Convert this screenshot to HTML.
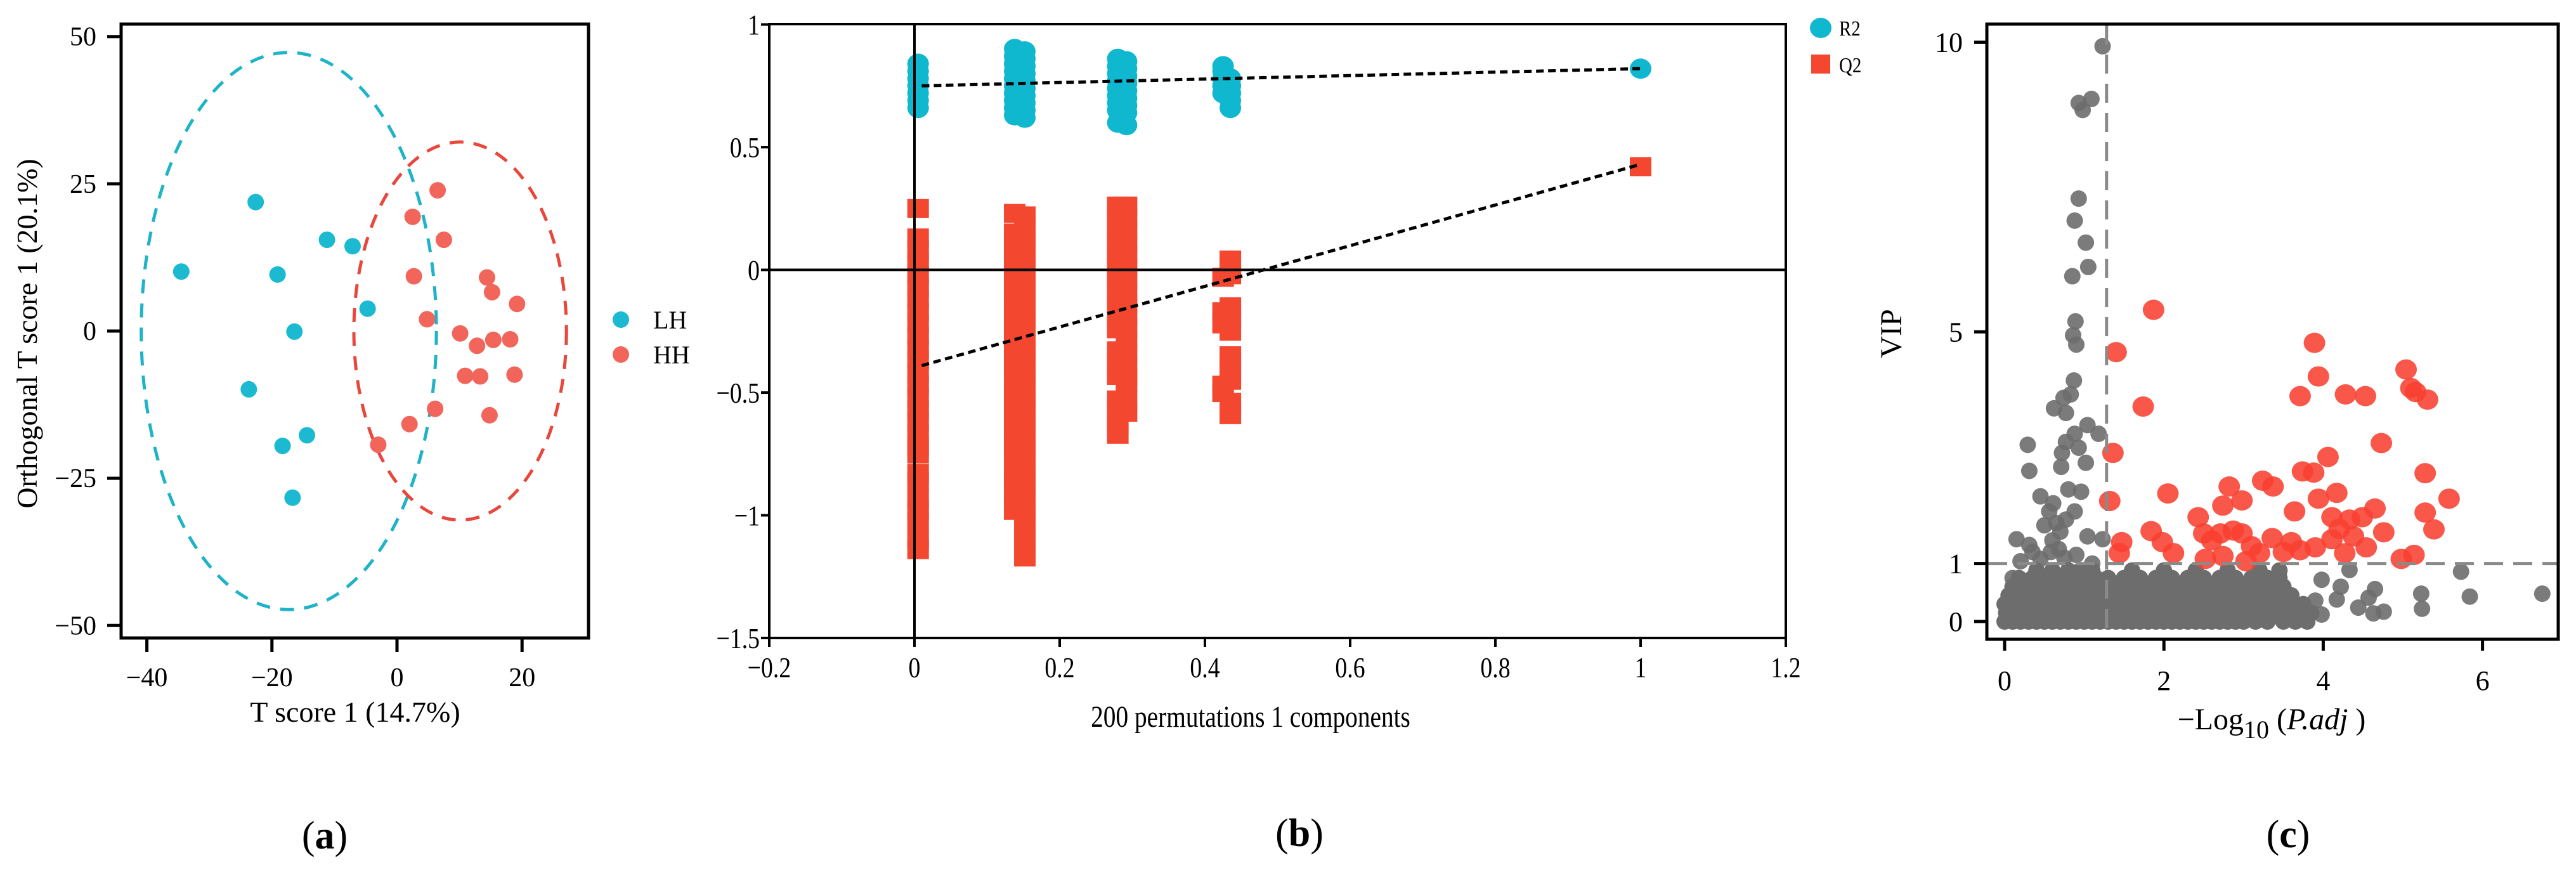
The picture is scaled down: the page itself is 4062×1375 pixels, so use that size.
<!DOCTYPE html>
<html><head><meta charset="utf-8"><style>
html,body{margin:0;padding:0;background:#fff;}
svg{display:block;font-family:"Liberation Serif",serif;}
</style></head><body>
<svg id="fig" width="4062" height="1375" viewBox="0 0 4062 1375" xmlns="http://www.w3.org/2000/svg">
<rect width="4062" height="1375" fill="#fff"/>
<g id="pa"></g>
<g id="pb"></g>
<g id="pc"></g>
</svg>
<script>
// ---------- Panel A data ----------
const aXTicks = [-40, -20, 0, 20];
const aYTicks = [50, 25, 0, -25, -50];
const lhX = [-22.6, -34.5, -11.2, -7.1, -19.1, -4.7, -16.4, -23.7, -14.4, -18.3, -16.7];
const lhY = [21.9, 10.1, 15.5, 14.4, 9.6, 3.8, -0.1, -9.9, -17.7, -19.5, -28.3];
const hhX = [6.5, 2.5, 7.5, 2.7, 14.4, 15.2, 19.2, 4.8, 10.1, 12.8, 15.4, 18.1, 10.9, 13.3, 18.8, 6.1, 14.8, 2.0, -3.0];
const hhY = [23.9, 19.4, 15.5, 9.3, 9.1, 6.6, 4.6, 2.0, -0.4, -2.5, -1.5, -1.4, -7.6, -7.7, -7.4, -13.2, -14.3, -15.8, -19.3];
const lhEllipse = [-17.3, 0, 23.6, 47.3];
const hhEllipse = [10.1, 0, 17.0, 32.1];

// ---------- Panel B data ----------
const bXTicks = [-0.2, 0, 0.2, 0.4, 0.6, 0.8, 1, 1.2];
const bXTickLabels = ["\u22120.2", "0", "0.2", "0.4", "0.6", "0.8", "1", "1.2"];
const bYTicks = [1, 0.5, 0, -0.5, -1, -1.5];
const bYTickLabels = ["1", "0.5", "0", "\u22120.5", "\u22121", "\u22121.5"];
const r2ColX = [0.005, 0.138, 0.152, 0.28, 0.292, 0.425, 0.435, 1.0];
const r2ColVals = [
  [0.66, 0.69, 0.72, 0.75, 0.78, 0.81, 0.84],
  [0.63, 0.66, 0.69, 0.72, 0.75, 0.78, 0.81, 0.84, 0.87, 0.9],
  [0.62, 0.65, 0.68, 0.71, 0.74, 0.77, 0.8, 0.83, 0.86, 0.89],
  [0.6, 0.65, 0.68, 0.71, 0.74, 0.77, 0.8, 0.83, 0.86],
  [0.59, 0.64, 0.67, 0.7, 0.73, 0.76, 0.79, 0.82, 0.85],
  [0.72, 0.75, 0.78, 0.81, 0.83],
  [0.66, 0.69, 0.72, 0.75, 0.78],
  [0.82]
];
const q2ColX = [0.005, 0.138, 0.152, 0.28, 0.292, 0.425, 0.435, 1.0];
const q2ColVals = [
  [0.25, 0.13, 0.08, 0.03, -0.02, -0.07, -0.12, -0.17, -0.22, -0.27, -0.32, -0.37, -0.42, -0.47, -0.52, -0.57, -0.62, -0.67, -0.72, -0.75, -0.83, -0.86, -0.93, -0.98, -1.03, -1.1, -1.14],
  [0.23, 0.15, 0.1, 0.05, 0, -0.05, -0.1, -0.15, -0.2, -0.25, -0.3, -0.35, -0.4, -0.45, -0.5, -0.55, -0.6, -0.65, -0.7, -0.75, -0.82, -0.86, -0.92, -0.98],
  [0.22, 0.17, 0.12, 0.07, 0.02, -0.03, -0.08, -0.13, -0.18, -0.23, -0.28, -0.33, -0.38, -0.43, -0.48, -0.53, -0.58, -0.63, -0.68, -0.73, -0.78, -0.83, -0.88, -0.93, -0.98, -1.03, -1.08, -1.13, -1.17],
  [0.26, 0.21, 0.16, 0.11, 0.06, 0.01, -0.04, -0.09, -0.14, -0.19, -0.24, -0.33, -0.38, -0.43, -0.53, -0.58, -0.63, -0.67],
  [0.26, 0.21, 0.16, 0.11, 0.06, 0.01, -0.04, -0.09, -0.14, -0.19, -0.24, -0.29, -0.34, -0.39, -0.44, -0.46, -0.53, -0.58],
  [-0.03, -0.17, -0.22, -0.47, -0.5],
  [0.04, -0.02, -0.15, -0.2, -0.25, -0.35, -0.4, -0.45, -0.54, -0.59],
  [0.42]
];
const r2LineX = [0.01, 1.0];
const r2LineY = [0.75, 0.82];
const q2LineX = [0.01, 1.0];
const q2LineY = [-0.39, 0.43];

// ---------- Panel C data ----------
const cXTicks = [0, 2, 4, 6];
const cYTicks = [10, 5, 1, 0];
const pThreshold = 1.28;
const vipThreshold = 1;
const blobRowY = [0.0, 0.15, 0.3, 0.45, 0.6, 0.75, 0.88];
const blobRowX = [
  [0.0, 0.1, 0.2, 0.3, 0.4, 0.5, 0.6, 0.7, 0.8, 0.9, 1.0, 1.1, 1.2, 1.3, 1.4, 1.5, 1.6, 1.7, 1.8, 1.9, 2.0, 2.1, 2.2, 2.3, 2.4, 2.5, 2.6, 2.7, 2.8, 2.9, 3.0, 3.15, 3.3, 3.5, 3.65, 3.8],
  [0.02, 0.12, 0.22, 0.32, 0.42, 0.52, 0.62, 0.72, 0.82, 0.92, 1.02, 1.12, 1.22, 1.32, 1.42, 1.52, 1.62, 1.72, 1.82, 1.92, 2.02, 2.12, 2.22, 2.32, 2.42, 2.52, 2.62, 2.72, 2.82, 2.92, 3.02, 3.12, 3.25, 3.4, 3.55, 3.7, 3.85],
  [0.0, 0.1, 0.2, 0.3, 0.4, 0.5, 0.6, 0.7, 0.8, 0.9, 1.0, 1.1, 1.2, 1.3, 1.4, 1.5, 1.6, 1.7, 1.8, 1.9, 2.0, 2.1, 2.2, 2.3, 2.4, 2.5, 2.6, 2.7, 2.8, 2.9, 3.0, 3.1, 3.25, 3.4, 3.55, 3.75],
  [0.05, 0.15, 0.27, 0.38, 0.48, 0.6, 0.7, 0.82, 0.92, 1.03, 1.15, 1.26, 1.38, 1.5, 1.6, 1.72, 1.83, 1.95, 2.05, 2.17, 2.3, 2.4, 2.52, 2.64, 2.76, 2.88, 3.0, 3.15, 3.3, 3.45, 3.6],
  [0.1, 0.22, 0.35, 0.5, 0.62, 0.75, 0.88, 1.0, 1.12, 1.25, 1.4, 1.55, 1.7, 1.85, 2.0, 2.15, 2.3, 2.45, 2.6, 2.75, 2.9, 3.05, 3.2, 3.35, 3.5],
  [0.18, 0.35, 0.55, 0.7, 0.85, 1.0, 1.15, 1.3, 1.5, 1.7, 1.9, 2.1, 2.3, 2.5, 2.7, 2.9, 3.1, 3.3, 3.45],
  [0.4, 0.6, 0.8, 0.95, 1.1, 1.6, 2.0, 2.4, 2.8, 3.2, 3.45]
];
const grayX = [1.23, 0.93, 0.98, 1.09, 0.93, 0.88, 1.02, 1.05, 0.85, 0.89, 0.86, 0.9, 0.87, 0.83, 0.74, 0.62, 0.77, 0.88, 1.04, 1.18, 0.29, 0.31, 0.72, 0.77, 0.93, 1.02, 0.71, 0.45, 0.8, 0.96, 0.61, 0.56, 0.5, 0.77, 0.88, 1.04, 0.15, 0.31, 0.2, 0.45, 1.23, 0.1, 0.65, 0.7, 0.6, 0.68, 0.75, 0.58, 0.9, 1.1, 0.35, 5.73, 5.84, 6.75, 5.23, 5.24, 4.44, 4.65, 4.57, 4.76, 4.63, 4.33, 4.17, 4.22, 3.98, 3.98, 3.65, 3.9];
const grayY = [9.93, 8.95, 8.83, 9.02, 7.3, 6.92, 6.54, 6.12, 5.96, 5.18, 4.94, 4.78, 4.16, 3.92, 3.86, 3.68, 3.6, 3.24, 3.39, 3.24, 3.05, 2.6, 2.91, 3.1, 3.0, 2.74, 2.67, 2.16, 2.28, 2.24, 2.04, 1.9, 1.66, 1.76, 1.9, 1.47, 1.42, 1.32, 1.04, 1.08, 1.42, 0.75, 1.7, 1.55, 1.4, 1.25, 1.1, 1.2, 1.15, 1.0, 1.2, 0.86, 0.43, 0.48, 0.48, 0.22, 0.24, 0.56, 0.41, 0.17, 0.14, 0.89, 0.38, 0.6, 0.72, 0.12, 0.1, 0.36];
const redX = [1.4, 1.87, 1.74, 1.36, 1.32, 1.47, 1.44, 2.05, 1.84, 1.98, 2.12, 2.43, 2.5, 2.71, 2.82, 2.74, 2.87, 2.98, 2.98, 2.52, 2.74, 3.24, 3.37, 3.36, 3.2, 3.03, 3.64, 3.6, 3.71, 3.71, 3.89, 3.94, 3.74, 3.88, 4.06, 3.94, 4.17, 4.11, 3.9, 4.11, 4.28, 4.53, 4.33, 4.49, 4.65, 4.73, 4.38, 4.54, 4.76, 4.27, 5.04, 5.1, 5.16, 5.31, 5.28, 5.58, 5.28, 5.39, 4.98, 5.14, 2.6, 3.1, 3.5, 4.2];
const redY = [4.65, 5.38, 3.71, 2.91, 2.08, 1.37, 1.18, 2.21, 1.56, 1.37, 1.18, 1.8, 1.52, 1.52, 2.33, 2.0, 1.57, 2.09, 1.52, 1.08, 1.13, 2.43, 2.33, 1.44, 1.18, 1.04, 1.9, 1.37, 1.23, 3.89, 4.81, 4.23, 2.59, 2.57, 2.84, 2.12, 2.22, 1.8, 1.28, 1.42, 3.92, 3.89, 1.76, 1.8, 1.95, 3.08, 1.47, 1.28, 1.54, 1.18, 4.35, 4.03, 3.96, 3.83, 2.56, 2.12, 1.88, 1.59, 1.08, 1.15, 1.4, 1.3, 1.2, 1.6];

// ---------- helpers ----------
const NS = "http://www.w3.org/2000/svg";
function mk(parent, tag, attrs, text) {
  const e = document.createElementNS(NS, tag);
  for (const k in attrs) e.setAttribute(k, attrs[k]);
  if (text !== undefined) e.textContent = text;
  parent.appendChild(e);
  return e;
}
const pa = document.getElementById('pa');
const pb = document.getElementById('pb');
const pc = document.getElementById('pc');

// ---------- Panel A ----------
const xa = v => 626 + v * 9.86;
const ya = v => 522 - v * 9.286;
let e;
e = mk(pa, 'ellipse', {cx: xa(lhEllipse[0]), cy: ya(lhEllipse[1]), rx: lhEllipse[2] * 9.86, ry: lhEllipse[3] * 9.286, fill: 'none', stroke: '#1fb3c8', 'stroke-width': 5, 'stroke-dasharray': '22 16'});


e = mk(pa, 'ellipse', {cx: xa(hhEllipse[0]), cy: ya(hhEllipse[1]), rx: hhEllipse[2] * 9.86, ry: hhEllipse[3] * 9.286, fill: 'none', stroke: '#e8473c', 'stroke-width': 5, 'stroke-dasharray': '22 16'});


for (let i = 0; i < lhX.length; i++) {
  e = mk(pa, 'ellipse', {cx: xa(lhX[i]), cy: ya(lhY[i]), rx: 13, ry: 13, fill: '#1cbad0'});
  
  
}
for (let i = 0; i < hhX.length; i++) {
  e = mk(pa, 'ellipse', {cx: xa(hhX[i]), cy: ya(hhY[i]), rx: 13, ry: 13, fill: '#f2655a'});
  
  
}
e = mk(pa, 'rect', {x: 191, y: 38, width: 737, height: 968, fill: 'none', stroke: '#000', 'stroke-width': 5});


for (const t of aXTicks) {
  mk(pa, 'line', {x1: xa(t), x2: xa(t), y1: 1006, y2: 1028, stroke: '#000', 'stroke-width': 5});
  e = mk(pa, 'text', {x: xa(t), y: 1082, 'font-size': 42, 'text-anchor': 'middle'}, t < 0 ? '\u2212' + (-t) : String(t));
  
  
}
for (const t of aYTicks) {
  mk(pa, 'line', {x1: 169, x2: 191, y1: ya(t), y2: ya(t), stroke: '#000', 'stroke-width': 5});
  e = mk(pa, 'text', {x: 152, y: ya(t) + 14, 'font-size': 42, 'text-anchor': 'end'}, t < 0 ? '\u2212' + (-t) : String(t));
  
  
}
e = mk(pa, 'text', {x: 560, y: 1138, 'font-size': 46, 'text-anchor': 'middle'}, 'T score 1 (14.7%)');


e = mk(pa, 'text', {x: 0, y: 0, 'font-size': 46, 'text-anchor': 'middle', transform: 'translate(58,526) rotate(-90)'}, 'Orthogonal T score 1 (20.1%)');


e = mk(pa, 'circle', {cx: 979, cy: 504, r: 13, fill: '#1cbad0'});


e = mk(pa, 'text', {x: 1030, y: 518, 'font-size': 40}, 'LH');


e = mk(pa, 'circle', {cx: 979, cy: 559, r: 13, fill: '#f2655a'});


e = mk(pa, 'text', {x: 1030, y: 573, 'font-size': 40}, 'HH');


e = mk(pa, 'text', {x: 512, y: 1338, 'font-size': 62, 'text-anchor': 'middle'}, '');
e.innerHTML = '(<tspan font-weight="bold">a</tspan>)';



// ---------- Panel B ----------
const xb = v => 1213 + (v + 0.2) / 1.4 * 1603;
const yb = v => 38.6 + (1 - v) / 2.5 * 967.4;
for (let c = 0; c < q2ColX.length; c++) {
  for (const v of q2ColVals[c]) {
    e = mk(pb, 'rect', {x: xb(q2ColX[c]) - 17, y: yb(v) - 15, width: 34, height: 30, fill: '#f4472f'});
    
    
  }
}
for (let c = 0; c < r2ColX.length; c++) {
  for (const v of r2ColVals[c]) {
    e = mk(pb, 'ellipse', {cx: xb(r2ColX[c]), cy: yb(v), rx: 17, ry: 16, fill: '#0fb7cf'});
    
    
  }
}
mk(pb, 'line', {x1: xb(0), x2: xb(0), y1: 38, y2: 1006, stroke: '#000', 'stroke-width': 4});
mk(pb, 'line', {x1: 1213, x2: 2816, y1: yb(0), y2: yb(0), stroke: '#000', 'stroke-width': 4});
e = mk(pb, 'line', {x1: xb(r2LineX[0]), y1: yb(r2LineY[0]), x2: xb(r2LineX[1]), y2: yb(r2LineY[1]), stroke: '#000', 'stroke-width': 5, 'stroke-dasharray': '12 7'});


e = mk(pb, 'line', {x1: xb(q2LineX[0]), y1: yb(q2LineY[0]), x2: xb(q2LineX[1]), y2: yb(q2LineY[1]), stroke: '#000', 'stroke-width': 5, 'stroke-dasharray': '12 7'});


e = mk(pb, 'rect', {x: 1213, y: 38, width: 1603, height: 968, fill: 'none', stroke: '#000', 'stroke-width': 4});


for (let i = 0; i < bXTicks.length; i++) {
  mk(pb, 'line', {x1: xb(bXTicks[i]), x2: xb(bXTicks[i]), y1: 1006, y2: 1020, stroke: '#000', 'stroke-width': 4});
  e = mk(pb, 'text', {x: xb(bXTicks[i]), y: 1068, 'font-size': 46, 'text-anchor': 'middle', transform: `translate(${xb(bXTicks[i])},0) scale(0.82,1) translate(${-xb(bXTicks[i])},0)`}, bXTickLabels[i]);
  
  
}
for (let i = 0; i < bYTicks.length; i++) {
  mk(pb, 'line', {x1: 1200, x2: 1213, y1: yb(bYTicks[i]), y2: yb(bYTicks[i]), stroke: '#000', 'stroke-width': 4});
  e = mk(pb, 'text', {x: 1198, y: yb(bYTicks[i]) + 16, 'font-size': 46, 'text-anchor': 'end', transform: `translate(1198,0) scale(0.82,1) translate(-1198,0)`}, bYTickLabels[i]);
  
  
}
e = mk(pb, 'text', {x: 1972, y: 1146, 'font-size': 48, 'text-anchor': 'middle', transform: 'translate(1972,0) scale(0.82,1) translate(-1972,0)'}, '200 permutations 1 components');


e = mk(pb, 'ellipse', {cx: 2871, cy: 44, rx: 17, ry: 16, fill: '#0fb7cf'});


e = mk(pb, 'text', {x: 2900, y: 56, 'font-size': 34, transform: 'translate(2900,0) scale(0.85,1) translate(-2900,0)'}, 'R2');


e = mk(pb, 'rect', {x: 2856, y: 86, width: 30, height: 30, fill: '#f4472f'});


e = mk(pb, 'text', {x: 2900, y: 114, 'font-size': 34, transform: 'translate(2900,0) scale(0.85,1) translate(-2900,0)'}, 'Q2');


e = mk(pb, 'text', {x: 2049, y: 1334, 'font-size': 62, 'text-anchor': 'middle'}, '');
e.innerHTML = '(<tspan font-weight="bold">b</tspan>)';



// ---------- Panel C ----------
const xc = v => 3161 + v * 125.6;
const yc = v => 980 - v * 91.35;
for (let r = 0; r < blobRowY.length; r++) {
  for (const x of blobRowX[r]) {
    e = mk(pc, 'circle', {cx: xc(x), cy: yc(blobRowY[r]), r: 13, fill: '#6d6d6d'});
    
    
  }
}
for (let i = 0; i < grayX.length; i++) {
  e = mk(pc, 'circle', {cx: xc(grayX[i]), cy: yc(grayY[i]), r: 13, fill: '#6d6d6d', 'fill-opacity': 0.9});
  
  
}
for (let i = 0; i < redX.length; i++) {
  e = mk(pc, 'ellipse', {cx: xc(redX[i]), cy: yc(redY[i]), rx: 17, ry: 16, fill: '#f84030', 'fill-opacity': 0.88});
  
  
}
e = mk(pc, 'line', {x1: xc(pThreshold), x2: xc(pThreshold), y1: 40, y2: 1006, stroke: '#8a8a8a', 'stroke-width': 5, 'stroke-dasharray': '30 16'});


e = mk(pc, 'line', {x1: 3135, x2: 4032, y1: yc(vipThreshold), y2: yc(vipThreshold), stroke: '#8a8a8a', 'stroke-width': 5, 'stroke-dasharray': '30 16'});


e = mk(pc, 'rect', {x: 3133, y: 38, width: 901, height: 970, fill: 'none', stroke: '#000', 'stroke-width': 5});


for (const t of cXTicks) {
  mk(pc, 'line', {x1: xc(t), x2: xc(t), y1: 1008, y2: 1026, stroke: '#000', 'stroke-width': 5});
  e = mk(pc, 'text', {x: xc(t), y: 1088, 'font-size': 44, 'text-anchor': 'middle'}, String(t));
  
  
}
for (const t of cYTicks) {
  mk(pc, 'line', {x1: 3113, x2: 3133, y1: yc(t), y2: yc(t), stroke: '#000', 'stroke-width': 5});
  e = mk(pc, 'text', {x: 3095, y: yc(t) + 15, 'font-size': 44, 'text-anchor': 'end'}, String(t));
  
  
}
e = mk(pc, 'text', {x: 3582, y: 1150, 'font-size': 48, 'text-anchor': 'middle'}, '');
e.innerHTML = '\u2212Log<tspan font-size="40" dy="14">10</tspan><tspan dy="-14"> (</tspan><tspan font-style="italic">P.adj</tspan> )';


e = mk(pc, 'text', {x: 0, y: 0, 'font-size': 48, 'text-anchor': 'middle', transform: 'translate(2998,526) rotate(-90)'}, 'VIP');


e = mk(pc, 'text', {x: 3608, y: 1336, 'font-size': 62, 'text-anchor': 'middle'}, '');
e.innerHTML = '(<tspan font-weight="bold">c</tspan>)';


</script>
</body></html>
